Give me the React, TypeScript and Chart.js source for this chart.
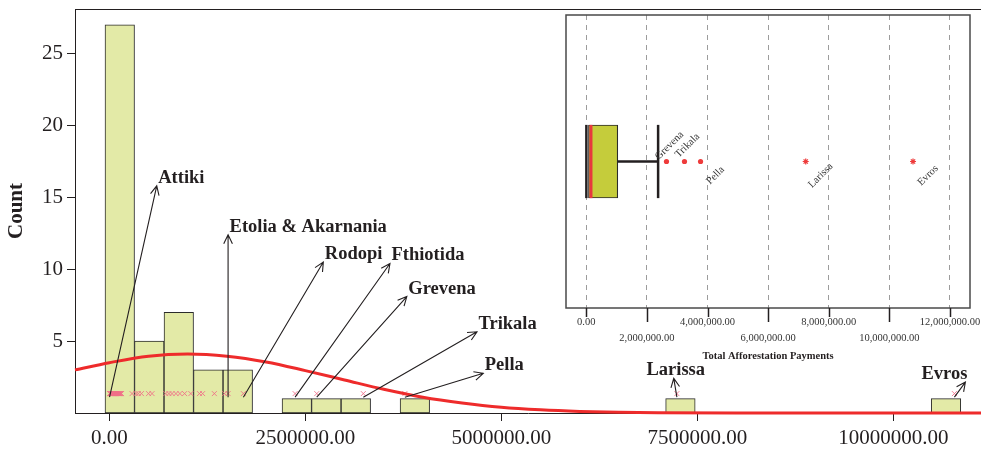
import React, { useEffect, useRef } from "react";
import { Chart, registerables } from "chart.js";

Chart.register(...registerables);

const SERIF = '"Liberation Serif", "Times New Roman", Times, serif';
const INK = "#231f20";

// Histogram bins of total afforestation payments per prefecture (EUR)
const binStart = -54900;
const binWidth = 376400;
const binCounts = [27, 5, 7, 3, 3, 0, 1, 1, 1, 0, 1, 0, 0, 0, 0, 0, 0, 0, 0, 1, 0, 0, 0, 0, 0, 0, 0, 0, 1];

// Individual prefecture totals (rug marks)
const paymentValues = [
  3000, 9000, 12000, 21000, 24000, 33000, 37000, 46000, 52000, 55000,
  63000, 70000, 72000, 81000, 88000, 91000, 99000, 107000, 112000, 118000,
  121000, 130000, 134000, 141000, 149000, 155000, 290000,
  340000, 370000, 410000, 500000, 545000,
  720000, 760000, 800000, 850000, 900000, 960000, 1040000,
  1150000, 1190000, 1340000,
  1470000, 1515000, 1710000,
  2370000, 2646000, 3240000, 3770000, 7240000, 10780000,
];

// Normal curve fitted to the payments, in count units
const curveX = [-437700, 0, 500000, 1000000, 1500000, 2000000, 2500000, 3000000, 3500000, 4000000,
  4500000, 5000000, 5500000, 6000000, 6500000, 7000000, 8000000, 9000000, 10000000, 11119000];
const curveY = [3.0, 3.5, 3.95, 4.1, 3.95, 3.55, 2.95, 2.3, 1.65, 1.1,
  0.7, 0.4, 0.22, 0.11, 0.05, 0.02, 0, 0, 0, 0];

const xTicks = [0, 2500000, 5000000, 7500000, 10000000];
const yTicks = [5, 10, 15, 20, 25];

// Labelled prefectures: value, and where the arrow ends (payment, count)
const calloutNames = ["Attiki", "Etolia & Akarnania", "Rodopi", "Fthiotida", "Grevena", "Trikala", "Pella", "Larissa", "Evros"];
const calloutValues = [3000, 1515000, 1710000, 2370000, 2646000, 3240000, 3770000, 7240000, 10780000];
const calloutTipX = [605000, 1515000, 2730000, 3580000, 3795000, 4690000, 4770000, 7200000, 10920000];
const calloutTipY = [15.8, 12.4, 10.5, 10.4, 8.1, 5.65, 2.76, 2.41, 2.15];
const calloutBase = 1.1;

// Boxplot summary of the same payments
const boxMin = 3000;
const boxQ1 = 72000;
const boxMedian = 155000;
const boxQ3 = 1040000;
const boxUpper = 2370000;
const outlierNames = ["Grevena", "Trikala", "Pella", "Larissa", "Evros"];
const outlierValues = [2646000, 3240000, 3770000, 7240000, 10780000];
const outlierExtreme = [false, false, false, true, true];
const insetTicks = [0, 2000000, 4000000, 6000000, 8000000, 10000000, 12000000];

const fmtMoney = (v: number) =>
  v.toLocaleString("en-US", { minimumFractionDigits: 2, maximumFractionDigits: 2 });

function drawArrow(ctx: CanvasRenderingContext2D, x0: number, y0: number, x1: number, y1: number) {
  const head = 10;
  const ang = Math.atan2(y1 - y0, x1 - x0);
  ctx.beginPath();
  ctx.moveTo(x0, y0);
  ctx.lineTo(x1, y1);
  ctx.moveTo(x1 - head * Math.cos(ang - Math.PI / 7), y1 - head * Math.sin(ang - Math.PI / 7));
  ctx.lineTo(x1, y1);
  ctx.lineTo(x1 - head * Math.cos(ang + Math.PI / 7), y1 - head * Math.sin(ang + Math.PI / 7));
  ctx.stroke();
}

const calloutPlugin = {
  id: "callouts",
  afterDatasetsDraw(chart: any) {
    const { ctx, chartArea } = chart;
    const xs = chart.scales.x;
    const ys = chart.scales.y;
    const align = ["left", "left", "left", "left", "left", "left", "left", "center", "right"];
    ctx.save();
    ctx.strokeStyle = INK;
    ctx.lineWidth = 1.1;
    ctx.fillStyle = INK;
    ctx.font = `bold 18.5px ${SERIF}`;
    ctx.textBaseline = "alphabetic";
    calloutNames.forEach((name, i) => {
      const x0 = xs.getPixelForValue(calloutValues[i]);
      const y0 = ys.getPixelForValue(calloutBase);
      const x1 = xs.getPixelForValue(calloutTipX[i]);
      const y1 = ys.getPixelForValue(calloutTipY[i]);
      drawArrow(ctx, x0, y0, x1, y1);
      ctx.textAlign = align[i];
      ctx.fillText(name, align[i] === "left" ? x1 + 1.5 : x1 + 2, y1 - 3);
    });
    // upper frame line
    ctx.lineWidth = 1;
    ctx.beginPath();
    ctx.moveTo(chartArea.left, Math.round(chartArea.top) + 0.5);
    ctx.lineTo(chart.width, Math.round(chartArea.top) + 0.5);
    ctx.stroke();
    ctx.restore();
  },
};

const insetPlugin = {
  id: "insetDecor",
  afterDatasetsDraw(chart: any) {
    const { ctx } = chart;
    const xs = chart.scales.x;
    const ys = chart.scales.y;
    const side = ["up", "up", "down", "down", "down"];
    ctx.save();
    ctx.fillStyle = "#333";
    ctx.font = `10.5px ${SERIF}`;
    ctx.textAlign = "center";
    ctx.textBaseline = "middle";
    outlierNames.forEach((name, i) => {
      const px = xs.getPixelForValue(outlierValues[i]);
      const py = ys.getPixelForValue(0.5);
      const dx = side[i] === "up" ? 3 : 15;
      const dy = side[i] === "up" ? -16 : 14;
      ctx.save();
      ctx.translate(px + dx, py + dy);
      ctx.rotate(-Math.PI / 4);
      ctx.fillText(name, 0, 0);
      ctx.restore();
    });
    ctx.restore();
  },
  afterDraw(chart: any) {
    const { ctx, chartArea } = chart;
    const xs = chart.scales.x;
    ctx.save();
    ctx.strokeStyle = "#4a4a4a";
    ctx.lineWidth = 1.5;
    ctx.strokeRect(chartArea.left, chartArea.top, chartArea.right - chartArea.left, chartArea.bottom - chartArea.top);
    ctx.strokeStyle = INK;
    ctx.lineWidth = 1.5;
    insetTicks.forEach((v, i) => {
      const px = Math.round(xs.getPixelForValue(v)) + 0.5;
      ctx.beginPath();
      ctx.moveTo(px, chartArea.bottom);
      ctx.lineTo(px, chartArea.bottom + (i % 2 ? 14 : 9));
      ctx.stroke();
    });
    ctx.restore();
  },
};

function HistogramChart() {
  const ref = useRef<HTMLCanvasElement>(null);
  useEffect(() => {
    if (!ref.current) return;
    const bars = binCounts.map((c, i) => ({ x: binStart + binWidth * (i + 0.5), y: c > 0 ? c : null }));
    const chart = new Chart(ref.current, {
      type: "bar",
      data: {
        datasets: [
          {
            type: "line",
            data: curveX.map((x, i) => ({ x, y: curveY[i] })),
            borderColor: "#ee2b2b",
            borderWidth: 3,
            pointRadius: 0,
            cubicInterpolationMode: "monotone",
            clip: false,
            order: 0,
          } as any,
          {
            type: "scatter",
            data: paymentValues.map((v) => ({ x: v, y: 1.35 })),
            pointStyle: "crossRot",
            pointRadius: 3.5,
            borderColor: "rgba(240,110,135,0.85)",
            backgroundColor: "rgba(0,0,0,0)",
            borderWidth: 1,
            order: 1,
          } as any,
          {
            type: "bar",
            data: bars,
            backgroundColor: "#e3eaa7",
            borderColor: "#2b2b2b",
            borderWidth: 1,
            borderSkipped: false,
            categoryPercentage: 1,
            barPercentage: 1,
            order: 2,
          } as any,
        ],
      },
      options: {
        animation: false,
        responsive: false,
        devicePixelRatio: 1,
        layout: { autoPadding: false, padding: { top: 9, left: 0, right: 0, bottom: 0 } },
        plugins: { legend: { display: false }, tooltip: { enabled: false } },
        scales: {
          x: {
            type: "linear",
            min: -437700,
            max: 11119000,
            offset: false,
            afterBuildTicks: (s: any) => {
              s.ticks = xTicks.map((v) => ({ value: v }));
            },
            afterFit: (s: any) => {
              s.height = 40;
              s.paddingLeft = 0;
              s.paddingRight = 0;
            },
            ticks: {
              callback: (v: any) => Number(v).toFixed(2),
              font: { family: SERIF, size: 21 },
              color: INK,
              padding: 5,
              maxRotation: 0,
              minRotation: 0,
              autoSkip: false,
            },
            grid: { display: true, drawOnChartArea: false, drawTicks: true, tickLength: 8, color: INK, offset: false },
            border: { display: true, color: INK, width: 1 },
          },
          y: {
            type: "linear",
            min: 0,
            max: 28.1,
            afterBuildTicks: (s: any) => {
              s.ticks = yTicks.map((v) => ({ value: v }));
            },
            afterFit: (s: any) => {
              s.width = 75;
              s.paddingTop = 0;
              s.paddingBottom = 0;
            },
            ticks: { font: { family: SERIF, size: 21 }, color: INK, padding: 4 },
            grid: { display: true, drawOnChartArea: false, drawTicks: true, tickLength: 8, color: INK },
            border: { display: true, color: INK, width: 1 },
            title: {
              display: true,
              text: "Count",
              color: INK,
              font: { family: SERIF, size: 21, weight: "bold" },
              padding: { top: 4, bottom: 0 },
            },
          },
        },
      } as any,
      plugins: [calloutPlugin],
    });
    return () => chart.destroy();
  }, []);
  return <canvas ref={ref} width={981} height={453} style={{ position: "absolute", left: 0, top: 0 }} />;
}

function BoxplotInset() {
  const ref = useRef<HTMLCanvasElement>(null);
  useEffect(() => {
    if (!ref.current) return;
    const half = 0.125;
    const vline = (x: number) => [{ x, y: 0.5 - half }, { x, y: 0.5 + half }];
    const chart = new Chart(ref.current, {
      type: "bar",
      data: {
        datasets: [
          {
            type: "line",
            data: vline(boxMedian),
            borderColor: "#e8383d",
            borderWidth: 3,
            pointRadius: 0,
            order: 0,
          } as any,
          {
            type: "line",
            data: [{ x: boxQ3, y: 0.5 }, { x: boxUpper, y: 0.5 }],
            borderColor: INK,
            borderWidth: 2.5,
            pointRadius: 0,
            order: 0,
          } as any,
          {
            type: "line",
            data: vline(boxUpper),
            borderColor: INK,
            borderWidth: 2.5,
            pointRadius: 0,
            order: 0,
          } as any,
          {
            type: "line",
            data: vline(boxMin),
            borderColor: INK,
            borderWidth: 2.5,
            pointRadius: 0,
            order: 0,
          } as any,
          {
            type: "scatter",
            data: outlierValues.filter((_, i) => !outlierExtreme[i]).map((v) => ({ x: v, y: 0.5 })),
            pointStyle: "circle",
            pointRadius: 2.6,
            backgroundColor: "#ee3b3b",
            borderColor: "#ee3b3b",
            borderWidth: 0,
            order: 0,
          } as any,
          {
            type: "scatter",
            data: outlierValues.filter((_, i) => outlierExtreme[i]).map((v) => ({ x: v, y: 0.5 })),
            pointStyle: "star",
            pointRadius: 3,
            backgroundColor: "#ee3b3b",
            borderColor: "#ee3b3b",
            borderWidth: 1.2,
            order: 0,
          } as any,
          {
            type: "bar",
            indexAxis: "y",
            data: [{ y: 0.5, x: [boxQ1, boxQ3] }],
            backgroundColor: "#c5cc3b",
            borderColor: "#2b2b2b",
            borderWidth: 1.2,
            borderSkipped: false,
            barThickness: 73,
            order: 1,
          } as any,
        ],
      },
      options: {
        animation: false,
        responsive: false,
        devicePixelRatio: 1,
        layout: { autoPadding: false, padding: { top: 10, left: 11, right: 11, bottom: 0 } },
        plugins: { legend: { display: false }, tooltip: { enabled: false } },
        scales: {
          x: {
            type: "linear",
            position: "bottom",
            min: -669000,
            max: 12660000,
            offset: false,
            afterBuildTicks: (s: any) => {
              s.ticks = insetTicks.map((v) => ({ value: v }));
            },
            afterFit: (s: any) => {
              s.height = 62;
              s.paddingLeft = 0;
              s.paddingRight = 0;
            },
            ticks: {
              callback: (v: any, i: number) => {
                const t = fmtMoney(Number(v));
                return i % 2 ? ["", t] : t;
              },
              font: { family: SERIF, size: 10.5, lineHeight: 1.46 },
              color: "#333",
              padding: 7,
              maxRotation: 0,
              minRotation: 0,
              autoSkip: false,
            },
            grid: { display: true, drawOnChartArea: true, drawTicks: false, offset: false, color: "#9c9c9c", lineWidth: 1 },
            border: { display: false, dash: [5, 5] },
            title: {
              display: true,
              text: "Total Afforestation Payments",
              color: INK,
              font: { family: SERIF, size: 10.5, weight: "bold" },
              padding: { top: 0, bottom: 7 },
            },
          },
          y: {
            type: "linear",
            min: 0,
            max: 1,
            offset: false,
            display: false,
          },
        },
      } as any,
      plugins: [insetPlugin],
    });
    return () => chart.destroy();
  }, []);
  return (
    <canvas ref={ref} width={426} height={365} style={{ position: "absolute", left: 555, top: 5 }} />
  );
}

export default function App() {
  return (
    <div style={{ position: "fixed", left: 0, top: 0, width: 981, height: 453, background: "#fff" }}>
      <HistogramChart />
      <BoxplotInset />
    </div>
  );
}
